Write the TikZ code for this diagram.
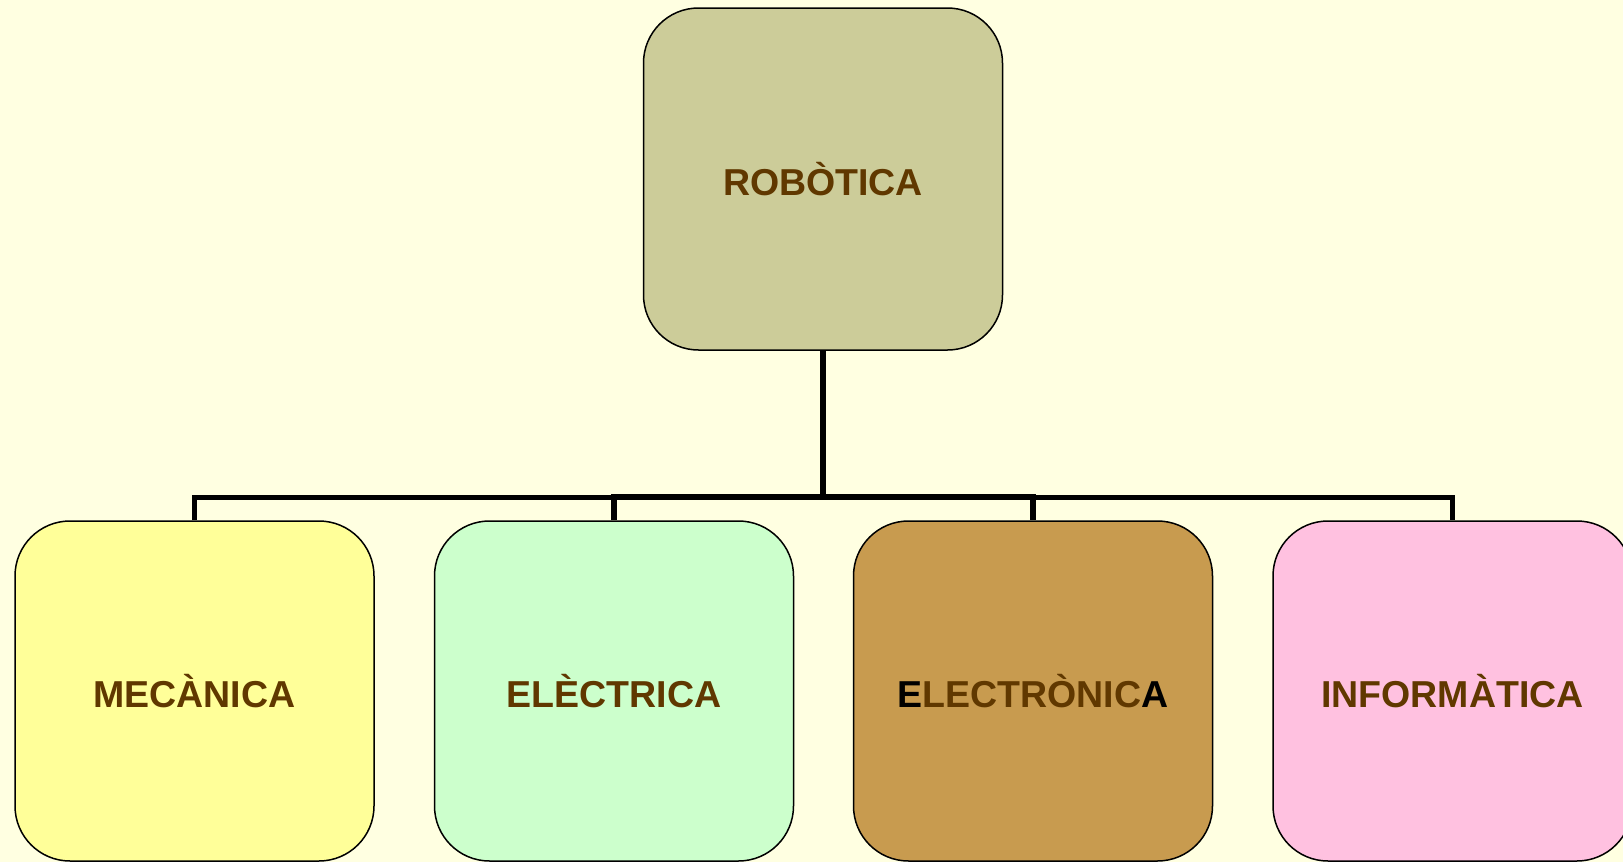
\documentclass[tikz,border=0pt]{standalone}
\usepackage{fontspec}
\setmainfont{Liberation Sans}
\definecolor{paper}{HTML}{FFFFE1}
\definecolor{olivebox}{HTML}{CCCC99}
\definecolor{yellowbox}{HTML}{FFFF99}
\definecolor{greenbox}{HTML}{CCFFCC}
\definecolor{tanbox}{HTML}{C89B4F}
\definecolor{pinkbox}{HTML}{FFC1E0}
\definecolor{labelbrown}{HTML}{603800}
\tikzset{
  topicbox/.style={draw=black, line width=1.5pt, rounded corners=55pt,
    minimum width=359pt, minimum height=340pt, inner sep=0pt,
    font=\fontsize{37.5}{45}\selectfont\bfseries, text=labelbrown},
  bus/.style={draw=black, line width=5.5pt, line join=miter},
}
\begin{document}
\begin{tikzpicture}[x=1pt,y=1pt]
  \useasboundingbox (0,0) rectangle (1623,-862);
  \clip (0,0) rectangle (1623,-862);
  \fill[paper] (0,0) rectangle (1623,-862);

  % root and branches
  \node[topicbox, fill=olivebox, minimum height=342pt] (rob) at (823,-179) {ROBÒTICA};
  \node[topicbox, fill=yellowbox] (mec) at (194.5,-691) {MECÀNICA};
  \node[topicbox, fill=greenbox] (ele) at (614,-691) {ELÈCTRICA};
  \node[topicbox, fill=tanbox] (eln) at (1033,-691)
    {{\color{black}E}LECTRÒNIC{\color{black}A}};
  \node[topicbox, fill=pinkbox] (inf) at (1452.5,-691) {INFORMÀTICA};

  % bus levels
  \coordinate (busout) at (0,-497.5);
  \coordinate (busin) at (0,-496.5);

  % connectors
  \draw[bus] (mec.north) -- (mec.north |- busout) -- (inf.north |- busout) -- (inf.north);
  \draw[bus] (ele.north) -- (ele.north |- busin) -- (eln.north |- busin) -- (eln.north);
  \draw[bus] (rob.south) -- ([yshift=-2.5pt]rob.south |- busin);
\end{tikzpicture}
\end{document}
